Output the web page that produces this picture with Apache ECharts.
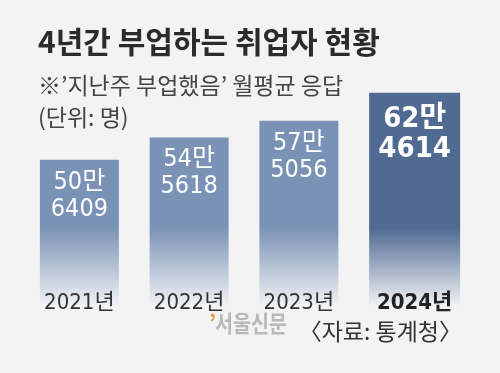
<!DOCTYPE html>
<html>
<head>
<meta charset="utf-8">
<script src="https://cdn.jsdelivr.net/npm/echarts@6/dist/echarts.min.js"></script>
<style>
html,body{margin:0;padding:0;background:#f3f3f3;}
#c{width:500px;height:373px;}
</style>
</head>
<body>
<div id="c"></div>
<script>
// ---- data ----
const categories = ['2021년', '2022년', '2023년', '2024년'];
const values = [506409, 545618, 575056, 624614];
const highlightIndex = 3;
const titleText = '4년간 부업하는 취업자 현황';
const subtitleText = '※\u2019지난주 부업했음\u2019 월평균 응답';
const unitText = '(단위: 명)';
const sourceText = '〈자료: 통계청〉';
const brandText = '서울신문';

// ---- styling ----
const NARROW = "'DejaVu Sans Condensed','Liberation Sans Narrow','Roboto Condensed',Roboto,'Noto Sans CJK KR',sans-serif";

function fade(top) {
  return new echarts.graphic.LinearGradient(0, 228, 0, 306, [
    { offset: 0, color: top },
    { offset: 1, color: '#f1f2f4' }
  ], true);
}
function fmt(p) {
  const v = p.value;
  return Math.floor(v / 10000) + '만\n' + String(v % 10000).padStart(4, '0');
}

const normalData = values.map((v, i) => i === highlightIndex ? '-' : v);
const hiData = values.map((v, i) => i === highlightIndex ? v : '-');

const chart = echarts.init(document.getElementById('c'), null, { renderer: 'canvas' });
chart.setOption({
  backgroundColor: '#f3f3f3',
  animation: false,
  grid: { left: 30.5, right: 30.5, top: 80, bottom: 68, containLabel: false },
  xAxis: {
    type: 'category',
    data: categories,
    z: 10,
    axisLine: { show: false },
    axisTick: { show: false },
    axisLabel: {
      interval: 0,
      hideOverlap: false,
      margin: -13,
      fontFamily: NARROW,
      fontSize: 22,
      color: '#333',
      formatter: (val, idx) => idx === highlightIndex ? '{b|' + val + '}' : '{n|' + val + '}',
      rich: {
        n: { fontFamily: NARROW, fontSize: 22, color: '#333', padding: [0, 12, 0, 0] },
        b: { fontFamily: NARROW, fontSize: 22, color: '#222', fontWeight: 'bold' }
      }
    }
  },
  yAxis: { type: 'value', min: 250000, max: 647000, show: false, splitLine: { show: false } },
  series: [
    {
      type: 'bar',
      data: normalData,
      barWidth: 79,
      barGap: '-100%',
      itemStyle: { color: fade('#7a92b5') },
      label: {
        show: true, position: 'insideTop', distance: 9,
        color: '#fff', fontFamily: NARROW, fontSize: 25, lineHeight: 27,
        formatter: fmt
      }
    },
    {
      type: 'bar',
      data: hiData,
      barWidth: 91,
      barGap: '-100%',
      itemStyle: { color: fade('#506a92') },
      label: {
        show: true, position: 'insideTop', distance: 12,
        color: '#fff', fontFamily: NARROW, fontSize: 29, fontWeight: 'bold', lineHeight: 30,
        formatter: fmt
      }
    }
  ],
  graphic: [
    { type: 'text', left: 38, top: 27, style: { text: titleText, font: "bold 30px 'Noto Sans CJK KR',sans-serif", fill: '#2b2b2b' } },
    { type: 'text', left: 38, top: 74, style: { text: subtitleText, font: "23px 'Noto Sans CJK KR',sans-serif", fill: '#444' } },
    { type: 'text', left: 38, top: 106, style: { text: unitText, font: "23px 'Noto Sans CJK KR',sans-serif", fill: '#444' } },
    { type: 'text', left: 209, top: 312, style: { text: '\u2019', font: "bold 22px 'Noto Sans CJK KR',sans-serif", fill: '#e3a13c' } },
    { type: 'text', left: 215, top: 312, scaleX: 0.85, style: { text: brandText, font: "bold 23px 'Noto Sans CJK KR',sans-serif", fill: '#b8b8b8' } },
    { type: 'text', right: 38, top: 320, style: { text: sourceText, font: "23px 'Noto Sans CJK KR',sans-serif", fill: '#333' } }
  ]
});
</script>
</body>
</html>
